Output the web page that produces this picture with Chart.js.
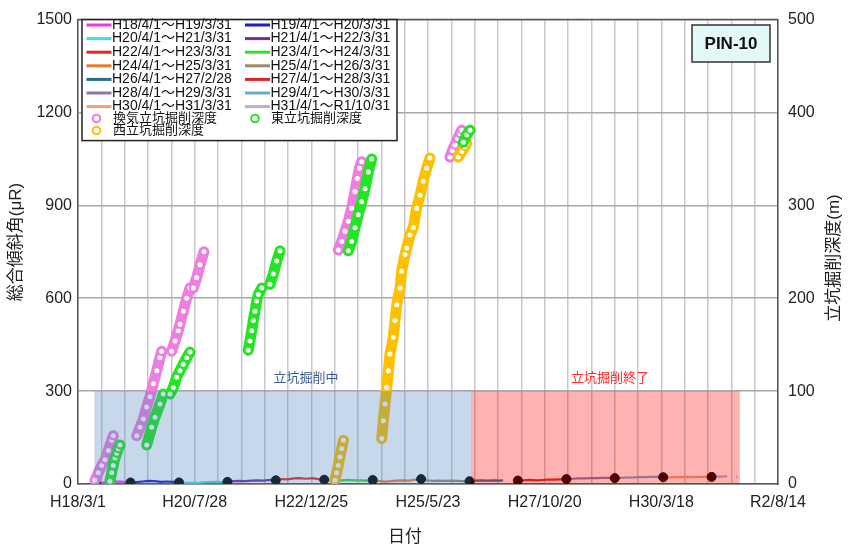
<!DOCTYPE html>
<html><head><meta charset="utf-8">
<script src="https://cdn.jsdelivr.net/npm/chart.js@4.4.1/dist/chart.umd.min.js"></script>
<style>html,body{margin:0;padding:0;background:#fff;}#wrap{width:850px;height:547px;}</style>
</head><body><div id="wrap"><canvas id="c" width="850" height="547"></canvas></div>
<script>
// ---------- axis ----------
const X_START = '2006-03-01';
const X_END = '2020-08-14';
const xTickLabels = ['H18/3/1','H20/7/28','H22/12/25','H25/5/23','H27/10/20','H30/3/18','R2/8/14'];

// ---------- tilt series (μR) ----------
const periodLabels = ['H18/4/1～H19/3/31','H19/4/1～H20/3/31','H20/4/1～H21/3/31','H21/4/1～H22/3/31',
  'H22/4/1～H23/3/31','H23/4/1～H24/3/31','H24/4/1～H25/3/31','H25/4/1～H26/3/31',
  'H26/4/1～H27/2/28','H27/4/1～H28/3/31','H28/4/1～H29/3/31','H29/4/1～H30/3/31',
  'H30/4/1～H31/3/31','H31/4/1～R1/10/31'];
const tiltH18 = [['2006-07-17',0],['2006-08-20',3],['2006-10-01',6],['2006-11-15',7],['2007-01-01',8],['2007-02-15',7],['2007-03-31',6]];
const tiltH19 = [['2007-04-01',5],['2007-05-15',6],['2007-07-01',8],['2007-08-15',10],['2007-10-01',9],['2007-11-15',7],['2008-01-01',8],['2008-02-15',7],['2008-03-31',5]];
const tiltH20 = [['2008-04-01',5],['2008-05-15',3],['2008-07-01',4],['2008-08-15',3],['2008-10-01',5],['2008-11-15',6],['2009-01-01',7],['2009-02-15',6],['2009-03-31',7]];
const tiltH21 = [['2009-04-01',7],['2009-05-15',9],['2009-07-01',10],['2009-08-15',9],['2009-10-01',11],['2009-11-15',12],['2010-01-01',11],['2010-02-15',13],['2010-03-31',12]];
const tiltH22 = [['2010-04-01',12],['2010-05-15',16],['2010-07-01',15],['2010-08-15',18],['2010-10-01',19],['2010-11-15',17],['2011-01-01',19],['2011-02-15',16],['2011-03-31',14]];
const tiltH23 = [['2011-04-01',14],['2011-05-15',12],['2011-07-01',11],['2011-08-15',12],['2011-10-01',13],['2011-11-15',12],['2012-01-01',12],['2012-02-15',11],['2012-03-31',13]];
const tiltH24 = [['2012-04-01',13],['2012-05-15',10],['2012-07-01',8],['2012-08-15',9],['2012-10-01',11],['2012-11-15',12],['2013-01-01',11],['2013-02-15',14],['2013-03-31',16]];
const tiltH25 = [['2013-04-01',16],['2013-05-15',12],['2013-07-01',10],['2013-08-15',11],['2013-10-01',10],['2013-11-15',11],['2014-01-01',10],['2014-02-15',9],['2014-03-31',9]];
const tiltH26 = [['2014-04-01',9],['2014-05-15',11],['2014-07-01',12],['2014-08-15',11],['2014-10-01',12],['2014-11-15',11],['2014-12-10',12]];
const tiltH27 = [['2015-04-01',11],['2015-05-15',12],['2015-07-01',13],['2015-08-15',12],['2015-10-01',13],['2015-11-15',14],['2016-01-01',14],['2016-02-15',15],['2016-03-31',16]];
const tiltH28 = [['2016-04-01',16],['2016-05-15',17],['2016-07-01',18],['2016-08-15',18],['2016-10-01',19],['2016-11-15',19],['2017-01-01',20],['2017-02-15',20],['2017-03-31',19]];
const tiltH29 = [['2017-04-01',19],['2017-05-15',20],['2017-07-01',21],['2017-08-15',21],['2017-10-01',22],['2017-11-15',22],['2018-01-01',23],['2018-02-15',23],['2018-03-31',22]];
const tiltH30 = [['2018-04-01',22],['2018-05-15',21],['2018-07-01',22],['2018-08-15',22],['2018-10-01',23],['2018-11-15',22],['2019-01-01',23],['2019-02-15',23],['2019-03-31',23]];
const tiltH31 = [['2019-04-01',23],['2019-05-15',24],['2019-06-15',24],['2019-07-27',25],null,['2019-10-05',24],['2019-10-15',24]];

const periodStartDates = ['2006-07-17','2007-04-01','2008-04-01','2009-04-01','2010-04-01','2011-04-01','2012-04-01',
  '2013-04-01','2014-04-01','2015-04-01','2016-04-01','2017-04-01','2018-04-01','2019-04-01'];
const periodStartValues = [0,5,5,7,12,14,13,16,9,11,16,19,22,23];

// ---------- shaft excavation depth (m) ----------
const shaftLabels = ['換気立坑掘削深度','東立坑掘削深度','西立坑掘削深度'];
const ventShaft = [
  [['2006-07-07',4],['2006-08-01',12],['2006-08-27',20],['2006-09-21',26],['2006-10-16',36],['2006-11-10',47],['2006-11-22',52]],
  [['2007-05-18',52],['2007-06-12',61],['2007-07-07',70],['2007-08-01',83],['2007-08-26',94],['2007-09-20',108],['2007-10-16',122],['2007-11-09',136],['2007-11-22',143]],
  [['2008-02-05',143],['2008-03-02',154],['2008-03-26',165],['2008-04-08',172],['2008-05-03',186],['2008-05-29',200],['2008-06-23',211],['2008-07-18',211],['2008-08-12',222],['2008-09-06',236],['2008-10-06',250]],
  [['2011-07-16',252],['2011-08-11',261],['2011-09-05',272],['2011-09-30',283],['2011-10-25',297],['2011-11-19',315],['2011-12-07',329],['2011-12-22',340],['2012-01-09',347]],
  [['2013-11-05',352],['2013-11-22',359],['2013-12-12',365],['2014-01-02',372],['2014-01-19',377],['2014-02-01',381]]
];
const eastShaft = [
  [['2006-10-28',3],['2006-11-10',12],['2006-11-22',20],['2006-12-05',28],['2006-12-18',33],['2006-12-30',38],['2007-01-12',42]],
  [['2007-08-01',42],['2007-09-08',61],['2007-10-03',72],['2007-11-09',86],['2007-12-04',97]],
  [['2008-01-24',97],['2008-02-18',104],['2008-03-14',115],['2008-04-08',122],['2008-05-03',129],['2008-05-29',136],['2008-06-23',142]],
  [['2009-09-05',144],['2009-09-18',154],['2009-10-01',165],['2009-10-13',176],['2009-10-26',186],['2009-11-08',197],['2009-11-20',204],['2009-12-16',211]],
  [['2010-02-16',215],['2010-03-13',226],['2010-04-08',240],['2010-05-03',251]],
  [['2011-09-30',251],['2011-10-25',261],['2011-11-19',276],['2011-12-14',290],['2012-01-09',304],['2012-02-03',318],['2012-02-28',336],['2012-03-24',350]],
  [['2014-02-13',368],['2014-03-11',376],['2014-04-05',381]]
];
const westShaft = [
  [['2011-06-21',4],['2011-07-04',12],['2011-07-16',20],['2011-07-29',29],['2011-08-11',38],['2011-08-24',47]],
  [['2012-06-08',49],['2012-06-20',68],['2012-07-03',86],['2012-07-16',104],['2012-07-28',122],['2012-08-09',140],['2012-09-03',158],['2012-09-16',176],['2012-09-29',193],['2012-10-24',211],['2012-11-05',229],['2012-11-30',247],['2012-12-13',254],['2013-01-07',268],['2013-02-01',276],['2013-02-26',297],['2013-03-24',311],['2013-04-17',326],['2013-05-13',340],['2013-06-07',351]],
  [['2014-01-06',352],['2014-02-01',358],['2014-02-26',363],['2014-03-11',367]]
];

// ---------- shaded periods ----------
const regionLabels = ['立坑掘削中','立坑掘削終了'];
const regionStart = ['2006-07-03','2014-04-12'];
const regionEnd = ['2014-04-12','2019-10-31'];
const regionTop = [300,300];
const regionLabelDates = ['2010-11-14','2017-02-24'];
const regionLabelValue = 340;

// ---------- styles ----------
const FONT = "'Liberation Sans','Noto Sans CJK JP',sans-serif";
const periodColors = ['#ee33ee','#1c1cc8','#38dcee','#7a2a9e','#ee2222','#33dd33','#ee7733','#9a8a68',
  '#2c6c8c','#dd2424','#8a78a8','#6aa8cc','#f0a078','#aab2de'];
const shaftColors = ['#ee7ee0','#22e622','#ffc000'];
const shaftOrder = [3,1,2];
const regionFill = ['rgba(79,129,189,0.31)','rgba(255,0,0,0.30)'];
const regionText = ['#3b5b8e','#ff2a2a'];

function day(s){const [y,m,d]=s.split('-').map(Number);const [y0,m0,d0]=X_START.split('-').map(Number);
  return (Date.UTC(y,m-1,d)-Date.UTC(y0,m0-1,d0))/86400000;}
function pts(list){let lastX=0;return list.map(p=>{if(p===null)return {x:lastX,y:null};lastX=day(p[0]);return {x:lastX,y:p[1]};});}
function segs(list){const out=[];list.forEach((seg,k)=>{if(k>0)out.push({x:day(seg[0][0]),y:null});seg.forEach(p=>out.push({x:day(p[0]),y:p[1]}));});return out;}

const tiltSeries=[tiltH18,tiltH19,tiltH20,tiltH21,tiltH22,tiltH23,tiltH24,tiltH25,tiltH26,tiltH27,tiltH28,tiltH29,tiltH30,tiltH31];
const datasets=[];
tiltSeries.forEach((s,i)=>datasets.push({label:periodLabels[i],data:pts(s),yAxisID:'y',borderColor:periodColors[i],
  borderWidth:2.2,pointRadius:0,tension:0,spanGaps:false,order:10}));
datasets.push({label:'start',data:periodStartDates.map((d,i)=>({x:day(d),y:periodStartValues[i]})),yAxisID:'y',
  showLine:false,pointRadius:4.5,pointBackgroundColor:'#000',pointBorderColor:'#000',pointBorderWidth:1,order:5});
[ventShaft,eastShaft,westShaft].forEach((s,i)=>datasets.push({label:shaftLabels[i],data:segs(s),yAxisID:'y2',
  borderColor:shaftColors[i],borderWidth:11,borderCapStyle:'round',borderJoinStyle:'round',spanGaps:false,tension:0,
  pointRadius:3.5,pointBorderWidth:2,pointBackgroundColor:'#fff',pointBorderColor:shaftColors[i],order:shaftOrder[i]}));

const overlay={id:'overlay',
  afterDatasetsDraw(chart){
    const {ctx,chartArea:a,scales:{x,y}}=chart;
    ctx.save();ctx.beginPath();ctx.rect(a.left,a.top,a.width,a.height);ctx.clip();
    regionStart.forEach((s,i)=>{
      const x0=x.getPixelForValue(day(s)),x1=x.getPixelForValue(day(regionEnd[i]));
      const y0=y.getPixelForValue(regionTop[i]),y1=y.getPixelForValue(0);
      ctx.fillStyle=regionFill[i];ctx.fillRect(x0,y0,x1-x0,y1-y0);
      ctx.fillStyle=regionText[i];ctx.font='13px '+FONT;ctx.textAlign='center';ctx.textBaseline='middle';
      ctx.fillText(regionLabels[i],x.getPixelForValue(day(regionLabelDates[i])),y.getPixelForValue(regionLabelValue));
    });
    ctx.restore();
  },
  afterDraw(chart){
    const {ctx,chartArea:a}=chart;
    ctx.save();
    ctx.strokeStyle='#555';ctx.lineWidth=1.5;ctx.beginPath();ctx.moveTo(a.left,a.top);ctx.lineTo(a.right,a.top);ctx.stroke();
    // legend
    const bx=82,by=a.top,bw=315,bh=121;
    ctx.fillStyle='#fff';ctx.fillRect(bx,by,bw,bh);
    ctx.textBaseline='middle';ctx.textAlign='left';ctx.font='14px '+FONT;
    periodLabels.forEach((lab,i)=>{
      const col=i%2,row=Math.floor(i/2);const lx=col?245:86.5,ty=25+row*13.6;
      ctx.strokeStyle=periodColors[i];ctx.lineWidth=3;ctx.beginPath();ctx.moveTo(lx,ty);ctx.lineTo(lx+25,ty);ctx.stroke();
      ctx.fillStyle='#111';ctx.fillText(lab,lx+25.5,ty);
    });
    ctx.font='13px '+FONT;
    shaftLabels.forEach((lab,i)=>{
      const col=i%2,row=Math.floor(i/2);const cx=col?255:96.5,ty=118.5+row*12;
      ctx.beginPath();ctx.arc(cx,ty,3.8,0,Math.PI*2);ctx.fillStyle='#fff';ctx.fill();
      ctx.strokeStyle=shaftColors[i];ctx.lineWidth=2;ctx.stroke();
      ctx.fillStyle='#111';ctx.fillText(lab,col?271:113,ty);
    });
    ctx.strokeStyle='#222';ctx.lineWidth=1.5;ctx.strokeRect(bx,by,bw,bh);
    // PIN box
    ctx.fillStyle='#e4f8f8';ctx.fillRect(692,25,78,37);
    ctx.strokeStyle='#333';ctx.lineWidth=1.5;ctx.strokeRect(692,25,78,37);
    ctx.fillStyle='#111';ctx.font='bold 17px '+FONT;ctx.textAlign='center';ctx.fillText('PIN-10',731,44);
    // axis titles
    ctx.font='17px '+FONT;ctx.fillStyle='#222';
    ctx.save();ctx.translate(16,242);ctx.rotate(-Math.PI/2);ctx.fillText('総合傾斜角(μR)',0,0);ctx.restore();
    ctx.save();ctx.translate(834,258);ctx.rotate(-Math.PI/2);ctx.fillText('立坑掘削深度(m)',0,0);ctx.restore();
    ctx.fillText('日付',405,537);
    ctx.restore();
  }};

new Chart(document.getElementById('c'),{type:'line',data:{datasets},
  options:{responsive:false,animation:false,devicePixelRatio:1,parsing:true,
    layout:{padding:{top:17,left:0,right:0,bottom:0}},
    plugins:{legend:{display:false},tooltip:{enabled:false}},
    scales:{
      x:{type:'linear',min:0,max:day(X_END),
        ticks:{stepSize:176,autoSkip:false,maxRotation:0,minRotation:0,padding:9,color:'#222',font:{size:16,family:FONT},
          callback:(v,i)=>i%5===0?xTickLabels[i/5]:''},
        grid:{color:'#c8c8c8',lineWidth:1.5,drawTicks:false},border:{display:true,color:'#555',width:1.5},
        afterFit:s=>{s.height=63;}},
      y:{type:'linear',position:'left',min:0,max:1500,
        ticks:{stepSize:300,padding:6,color:'#222',font:{size:16,family:FONT},callback:v=>String(v)},
        grid:{color:'#a8a8a8',lineWidth:1.5,drawTicks:false},border:{display:true,color:'#555',width:1.5},
        afterFit:s=>{s.width=78;}},
      y2:{type:'linear',position:'right',min:0,max:500,
        ticks:{stepSize:100,padding:10,color:'#222',font:{size:16,family:FONT},callback:v=>String(v)},
        grid:{drawOnChartArea:false,drawTicks:false},border:{display:true,color:'#555',width:1.5},
        afterFit:s=>{s.width=72;}}
    }},
  plugins:[overlay]});
</script></body></html>
